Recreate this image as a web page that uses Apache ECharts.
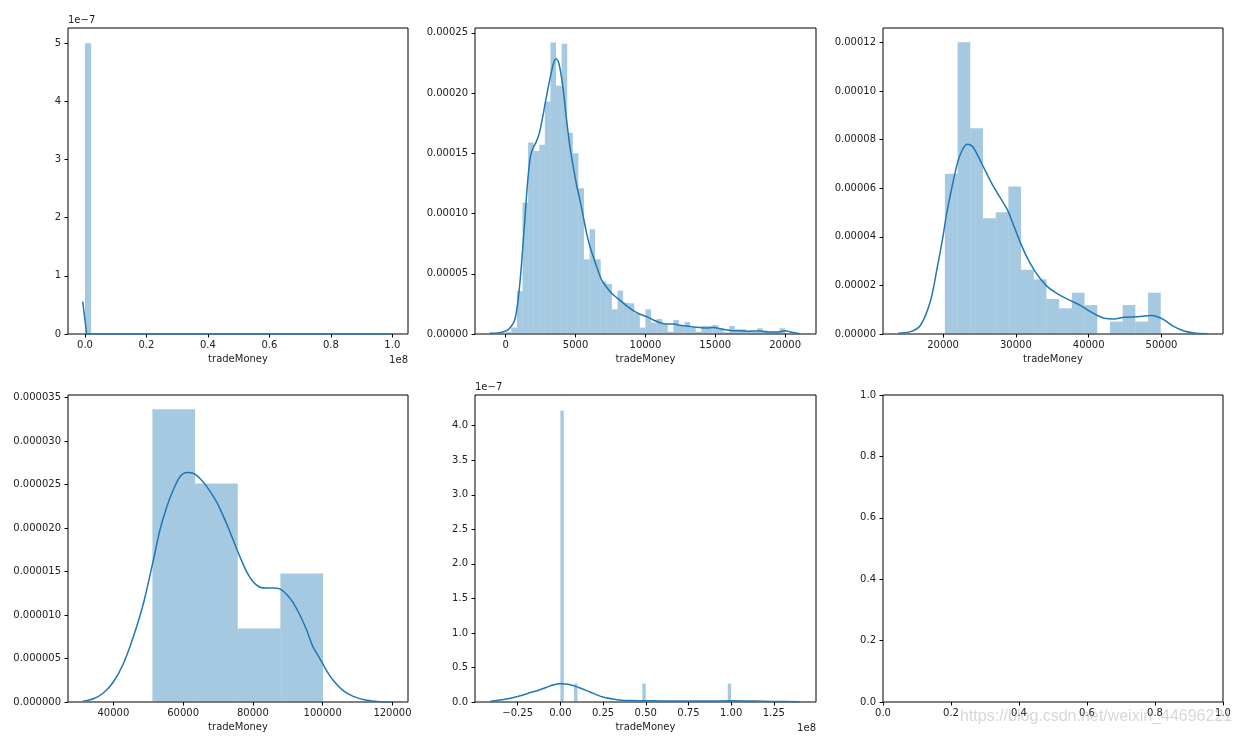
<!DOCTYPE html>
<html><head><meta charset="utf-8">
<script src="https://cdn.jsdelivr.net/npm/echarts@6/dist/echarts.min.js"></script>
<style>html,body{margin:0;padding:0;background:#fff}#c{width:1239px;height:736px}</style>
</head><body><div id="c"></div>
<script>
// ---------------- DATA ----------------
// Panel 1 (x in units of 1e8, density in units of 1e-7)
const p1BinRange = [0, 1.0];
const p1Hist = [5.0,0,0,0,0,0,0,0,0,0, 0,0,0,0,0,0,0,0,0,0, 0,0,0,0,0,0,0,0,0,0, 0,0,0,0,0,0,0,0,0,0, 0,0,0,0,0,0,0,0,0,0];
const p1KdeX = [-0.0075, 0.0055, 1.0];
const p1KdeY = [0.556, 0.0, 0.0];
const p1XTicks = [0, 0.2, 0.4, 0.6, 0.8, 1.0];
const p1YTicks = [0, 1, 2, 3, 4, 5];

// Panel 2
const p2BinRange = [0, 20000];
const p2Hist = [0.0000015,0.0000053,0.0000357,0.000109,0.000159,0.000152,0.000157,0.000193,0.000242,0.000206,
  0.000241,0.000167,0.000150,0.000121,0.000062,0.000087,0.000062,0.0000435,0.0000416,0.0000205,
  0.000036,0.000026,0.0000255,0.0000172,0.0000053,0.0000205,0.0000094,0.0000125,0.0000083,0.0000019,
  0.0000116,0.0000075,0.00001,0.0000053,0.0000019,0.0000067,0.0000067,0.0000075,0.0000047,0.0000014,
  0.0000066,0.0000039,0.0000039,0.0000028,0.0000019,0.0000047,0.0000028,0.0000019,0.0000017,0.0000047];
const p2KdeX = [-1148,-430,0,287,646,885,1076,1243,1435,1602,1770,1961,2200,2439,2678,2917,3156,3395,3587,3754,
  3922,4113,4352,4591,4830,5069,5308,5548,5787,6026,6265,6504,6863,7221,7580,7939,8297,8656,9134,9613,
  10091,10569,11047,11525,12004,12482,12960,13439,13917,14395,14873,15352,15830,16308,16786,17265,17743,18221,18699,19177,
  19656,20014,20373,21091];
const p2KdeY = [0.00000055,0.0000011,0.0000025,0.0000047,0.0000116,0.0000283,0.0000504,0.0000754,0.0001059,0.0001308,
  0.0001475,0.0001544,0.0001599,0.0001682,0.0001821,0.0001973,0.0002112,0.0002237,0.0002284,0.0002264,
  0.0002181,0.0002029,0.0001779,0.0001558,0.0001391,0.0001239,0.0001114,0.0000976,0.0000837,0.0000726,
  0.0000643,0.000056,0.0000449,0.0000388,0.0000338,0.0000302,0.0000269,0.0000233,0.0000194,0.0000164,
  0.0000144,0.0000116,0.0000094,0.0000083,0.0000083,0.0000072,0.0000067,0.0000058,0.0000053,0.000005,
  0.0000053,0.0000044,0.0000033,0.0000028,0.0000028,0.0000022,0.0000025,0.0000025,0.0000017,0.0000017,
  0.0000019,0.0000028,0.0000017,0.0000003];
const p2XTicks = [0, 5000, 10000, 15000, 20000];
const p2YTicks = [0, 0.00005, 0.0001, 0.00015, 0.0002, 0.00025];

// Panel 3
const p3BinRange = [20250, 49900];
const p3Hist = [0.0000659,0.00012,0.0000847,0.0000476,0.0000501,0.0000607,0.0000264,0.0000225,0.0000144,0.0000106,
  0.000017,0.0000119,0,0.0000051,0.0000119,0.0000051,0.000017];
const p3KdeX = [13819,15559,16932,18306,19222,19908,20504,21053,21969,22656,23342,24029,24716,25632,26548,27463,28837,29753,30668,31584,
  32500,33416,34332,35247,36163,37537,38910,39826,41200,42115,43489,44863,46694,48526,49442,50357,51731,53104,54478,56310];
const p3KdeY = [0.0000003,0.00000096,0.0000037,0.000014,0.0000277,0.0000387,0.0000497,0.000058,0.0000703,0.0000758,
  0.0000781,0.0000772,0.0000737,0.0000682,0.0000627,0.000058,0.0000511,0.0000442,0.0000373,0.0000312,
  0.0000264,0.0000225,0.0000195,0.0000174,0.0000158,0.0000137,0.0000117,0.0000099,0.0000076,0.0000065,
  0.0000062,0.0000069,0.0000071,0.0000076,0.0000071,0.0000058,0.000003,0.0000012,0.0000004,0.0000001];
const p3XTicks = [20000, 30000, 40000, 50000];
const p3YTicks = [0, 0.00002, 0.00004, 0.00006, 0.00008, 0.0001, 0.00012];

// Panel 4
const p4BinRange = [51200, 100100];
const p4Hist = [0.00003365, 0.00002513, 0.00000844, 0.00001477];
const p4KdeX = [31217,34272,37136,40000,42864,45728,48592,51456,53365,55274,57184,59093,61002,62912,64821,66730,69594,72458,74368,76277,
  78186,80095,82005,83914,85823,87733,89642,91551,93461,95370,97279,99189,101098,103007,105871,108735,112554,116372,120000];
const p4KdeY = [0.00000008,0.00000038,0.00000104,0.0000023,0.0000044,0.0000075,0.0000113,0.0000163,0.0000198,0.0000224,
  0.0000244,0.0000259,0.0000264,0.0000263,0.0000257,0.0000248,0.000023,0.0000205,0.0000186,0.0000167,
  0.000015,0.0000138,0.0000132,0.0000131,0.0000131,0.000013,0.0000124,0.0000114,0.00001,0.0000083,
  0.0000063,0.000005,0.0000036,0.0000025,0.0000013,0.00000065,0.0000002,0.00000004,0];
const p4XTicks = [40000, 60000, 80000, 100000, 120000];
const p4YTicks = [0, 0.000005, 0.00001, 0.000015, 0.00002, 0.000025, 0.00003, 0.000035];

// Panel 5 (x in units of 1e8, density in units of 1e-7)
const p5BinRange = [0, 1.0];
const p5Hist = [4.22,0,0,0,0.266,0,0,0,0,0, 0,0,0,0,0,0,0,0,0,0, 0,0,0,0,0.266,0,0,0,0,0, 0,0,0,0,0,0,0,0,0,0, 0,0,0,0,0,0,0,0,0,0.266];
const p5KdeX = [-0.41,-0.332,-0.25,-0.17,-0.123,-0.083,-0.044,0,0.036,0.075,0.115,0.174,0.249,0.333,0.411,0.49,0.586,0.669,0.768,0.898,0.996,1.133,1.25,1.406];
const p5KdeY = [0.01,0.035,0.08,0.14,0.175,0.21,0.246,0.266,0.262,0.237,0.203,0.145,0.072,0.034,0.02,0.019,0.016,0.0145,0.0145,0.0145,0.017,0.0145,0.009,0.004];
const p5XTicks = [-0.25, 0, 0.25, 0.5, 0.75, 1.0, 1.25];
const p5YTicks = [0, 0.5, 1.0, 1.5, 2.0, 2.5, 3.0, 3.5, 4.0];

// Panel 6 (empty axes)
const p6XTicks = [0, 0.2, 0.4, 0.6, 0.8, 1.0];
const p6YTicks = [0, 0.2, 0.4, 0.6, 0.8, 1.0];

const xName = 'tradeMoney';
const watermark = 'https://blog.csdn.net/weixin_44696221';

// ---------------- CHART ----------------
const FONT = 'DejaVu Sans';
const TXT = '#222';
const minus = s => s.replace('-', '\u2212');

const panels = [
  {grid:{left:68, top:28, width:340, height:306}, xMin:-0.0553, xMax:1.051, yMin:0, yMax:5.263,
   xt:p1XTicks, yt:p1YTicks, xf:v=>v.toFixed(1), yf:v=>String(Math.round(v)), hist:[p1BinRange,p1Hist], kde:[p1KdeX,p1KdeY], smooth:false,
   xLabel:xName, yOff:'1e\u22127', xOff:'1e8'},
  {grid:{left:475, top:28, width:341, height:306}, xMin:-2200, xMax:22210, yMin:0, yMax:0.000254,
   xt:p2XTicks, yt:p2YTicks, xf:v=>String(v), yf:v=>v.toFixed(5), hist:[p2BinRange,p2Hist], kde:[p2KdeX,p2KdeY], smooth:0.3,
   xLabel:xName},
  {grid:{left:883, top:28, width:340, height:306}, xMin:11750, xMax:58450, yMin:0, yMax:0.0001259,
   xt:p3XTicks, yt:p3YTicks, xf:v=>String(v), yf:v=>v.toFixed(5), hist:[p3BinRange,p3Hist], kde:[p3KdeX,p3KdeY], smooth:0.3,
   xLabel:xName},
  {grid:{left:68, top:395, width:340, height:307}, xMin:27000, xMax:124450, yMin:0, yMax:0.0000353,
   xt:p4XTicks, yt:p4YTicks, xf:v=>String(v), yf:v=>v.toFixed(6), hist:[p4BinRange,p4Hist], kde:[p4KdeX,p4KdeY], smooth:0.3,
   xLabel:xName},
  {grid:{left:475, top:395, width:341, height:307}, xMin:-0.5, xMax:1.497, yMin:0, yMax:4.445,
   xt:p5XTicks, yt:p5YTicks, xf:v=>minus(v.toFixed(2)), yf:v=>v.toFixed(1), hist:[p5BinRange,p5Hist], kde:[p5KdeX,p5KdeY], smooth:0.3,
   xLabel:xName, yOff:'1e\u22127', xOff:'1e8'},
  {grid:{left:883, top:395, width:340, height:307}, xMin:0, xMax:1, yMin:0, yMax:1,
   xt:p6XTicks, yt:p6YTicks, xf:v=>v.toFixed(1), yf:v=>v.toFixed(1)}
];

const labelStyle = {color:TXT, fontFamily:FONT, fontSize:10};
const tickStyle = {color:'#000', width:1};

function histData(range, h) {
  const w = (range[1]-range[0]) / h.length;
  return h.map((v,i) => [range[0]+i*w, range[0]+(i+1)*w, v]);
}
function renderHist(params, api) {
  const a = api.coord([api.value(0), api.value(2)]);
  const b = api.coord([api.value(1), 0]);
  return {type:'rect', shape:{x:a[0], y:a[1], width:b[0]-a[0], height:b[1]-a[1]},
          style:{fill:'rgba(31,119,180,0.4)'}};
}

const option = {animation:false, backgroundColor:'#fff', grid:[], xAxis:[], yAxis:[], series:[], graphic:[]};
panels.forEach((p, i) => {
  option.grid.push(Object.assign({show:true, borderColor:'#000', borderWidth:1, backgroundColor:'transparent'}, p.grid));
  option.xAxis.push({type:'value', gridIndex:i, min:p.xMin, max:p.xMax,
    name:p.xLabel || '', nameLocation:'middle', nameGap:20, nameMoveOverlap:false,
    nameTextStyle:Object.assign({verticalAlign:'top'}, labelStyle),
    axisLine:{show:false, onZero:false},
    axisTick:{show:true, inside:false, length:3.5, lineStyle:tickStyle, customValues:p.xt},
    axisLabel:Object.assign({customValues:p.xt, formatter:p.xf, margin:6, hideOverlap:false}, labelStyle),
    splitLine:{show:false}});
  option.yAxis.push({type:'value', gridIndex:i, min:p.yMin, max:p.yMax,
    name:p.yOff || '', nameLocation:'end', nameGap:3, nameMoveOverlap:false,
    nameTextStyle:Object.assign({align:'left', verticalAlign:'bottom'}, labelStyle),
    axisLine:{show:false, onZero:false},
    axisTick:{show:true, inside:false, length:3.5, lineStyle:tickStyle, customValues:p.yt},
    axisLabel:Object.assign({customValues:p.yt, formatter:p.yf, margin:7, hideOverlap:false}, labelStyle),
    splitLine:{show:false}});
  if (p.hist) {
    option.series.push({type:'custom', xAxisIndex:i, yAxisIndex:i, renderItem:renderHist,
      encode:{x:[0,1], y:2}, data:histData(p.hist[0], p.hist[1]), silent:true});
  }
  if (p.kde) {
    option.series.push({type:'line', xAxisIndex:i, yAxisIndex:i, showSymbol:false, smooth:p.smooth,
      lineStyle:{color:'#1f77b4', width:1.5}, itemStyle:{color:'#1f77b4'},
      data:p.kde[0].map((x,k)=>[x, p.kde[1][k]]), silent:true});
  }
  if (p.xOff) {
    option.graphic.push({type:'text', x:p.grid.left + p.grid.width, y:p.grid.top + p.grid.height + 21,
      style:{text:p.xOff, align:'right', verticalAlign:'top', fill:TXT, font:'10px "DejaVu Sans"'}});
  }
});
option.graphic.push({type:'text', x:960, y:717, z:100,
  style:{text:watermark, align:'left', verticalAlign:'middle', fill:'rgba(160,160,160,0.42)', font:'16px "Liberation Sans"'}});

const chart = echarts.init(document.getElementById('c'), null, {renderer:'canvas'});
chart.setOption(option);
</script></body></html>
